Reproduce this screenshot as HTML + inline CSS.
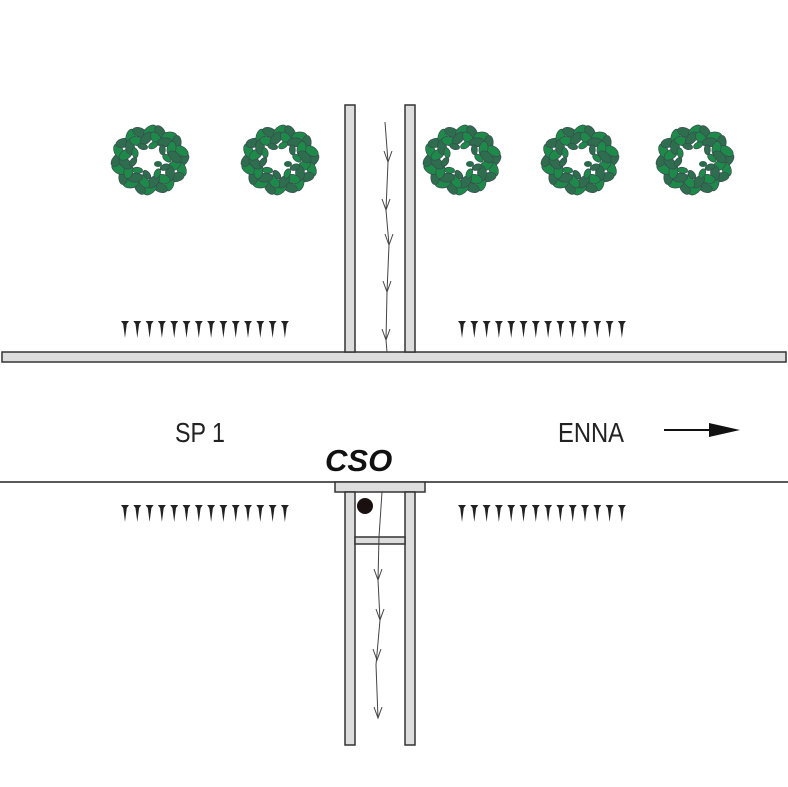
<!DOCTYPE html>
<html><head><meta charset="utf-8"><style>
html,body{margin:0;padding:0;background:#fff;width:788px;height:787px;overflow:hidden}
svg{display:block}
text{font-family:"Liberation Sans",sans-serif}
</style></head><body>
<svg id="s" width="788" height="787" viewBox="0 0 788 787" xmlns="http://www.w3.org/2000/svg">
<g id="bushes"></g>
<g id="grass" fill="#222"></g>
<rect x="2" y="352" width="784" height="10" fill="#ddd" stroke="#333" stroke-width="1.5"/>
<rect x="345" y="105" width="10" height="247" fill="#ddd" stroke="#333" stroke-width="1.5"/>
<rect x="405" y="105" width="10" height="247" fill="#ddd" stroke="#333" stroke-width="1.5"/>
<polyline points="385,122 388,162 386,210 389,245 387,292 386,340 387,352" fill="none" stroke="#444" stroke-width="1"/>
<g fill="none" stroke="#444" stroke-width="1" id="arrTop"></g>
<line x1="0" y1="482" x2="788" y2="482" stroke="#222" stroke-width="1.5"/>
<rect x="335" y="482" width="90" height="10" fill="#ddd" stroke="#333" stroke-width="1.5"/>
<rect x="345" y="492" width="10" height="253" fill="#ddd" stroke="#333" stroke-width="1.5"/>
<rect x="405" y="492" width="10" height="253" fill="#ddd" stroke="#333" stroke-width="1.5"/>
<rect x="355" y="537" width="50" height="7" fill="#ddd" stroke="#333" stroke-width="1.5"/>
<circle cx="365" cy="506" r="8" fill="#1a1010"/>
<polyline points="382,492 379,537 378,580 380,620 376,665 378,718" fill="none" stroke="#444" stroke-width="1"/>
<g fill="none" stroke="#444" stroke-width="1" id="arrBot"></g>
<text x="175" y="442" font-size="28" fill="#222" textLength="50" lengthAdjust="spacingAndGlyphs">SP 1</text>
<text x="558" y="442" font-size="28" fill="#222" textLength="66" lengthAdjust="spacingAndGlyphs">ENNA</text>
<text x="325" y="471" font-size="31" font-weight="bold" font-style="italic" fill="#111">CSO</text>
<line x1="664" y1="430" x2="712" y2="430" stroke="#111" stroke-width="2"/>
<polygon points="709,423 740,430 709,437" fill="#111"/>
</svg>
<script>
var NS="http://www.w3.org/2000/svg";
function el(p,t,a){var e=document.createElementNS(NS,t);for(var k in a)e.setAttribute(k,a[k]);p.appendChild(e);return e;}
var b=document.getElementById("bushes");
[[150,160],[280,160],[462,160],[580,160],[695,160]].forEach(function(c){
 for(var r=0;r<3;r++){var n=[20,16,10][r],R=[33,25,17][r];
 for(var i=0;i<n;i++){var a=i/n*Math.PI*2+r*0.25;var x=c[0]+R*Math.cos(a),y=c[1]+R*0.88*Math.sin(a);
  el(b,"ellipse",{cx:x,cy:y,rx:r==2?5:7.5,ry:r==2?3:4.5,fill:((i+r)%2?"#1e8a4a":"#2e6e4e"),stroke:"#3a4a50",
  "stroke-width":0.7,transform:"rotate("+(a*180/Math.PI+50*(i%2?1:-1))+" "+x+" "+y+")"});}}
 el(b,"ellipse",{cx:c[0]+8,cy:c[1]+4,rx:4,ry:3,fill:"#2a6a4a"});
});
var g=document.getElementById("grass");
[[125,321],[462,321],[125,505],[462,505]].forEach(function(s){
 for(var i=0;i<14;i++){var x=s[0]+i*12.3;
  el(g,"polygon",{points:(x-4)+","+s[1]+" "+(x+4)+","+s[1]+" "+(x+1.8)+","+(s[1]+3)+" "+x+","+(s[1]+17)+" "+(x-1.8)+","+(s[1]+3)});}
});
function arr(id,pts){var p=document.getElementById(id);pts.forEach(function(q){
 el(p,"polyline",{points:(q[0]-4)+","+(q[1]-11)+" "+q[0]+","+q[1]+" "+(q[0]+4)+","+(q[1]-11)});});}
arr("arrTop",[[388,162],[386,210],[389,245],[387,292],[386,340]]);
arr("arrBot",[[378,580],[380,620],[377,660],[378,718]]);
</script>
</body></html>
